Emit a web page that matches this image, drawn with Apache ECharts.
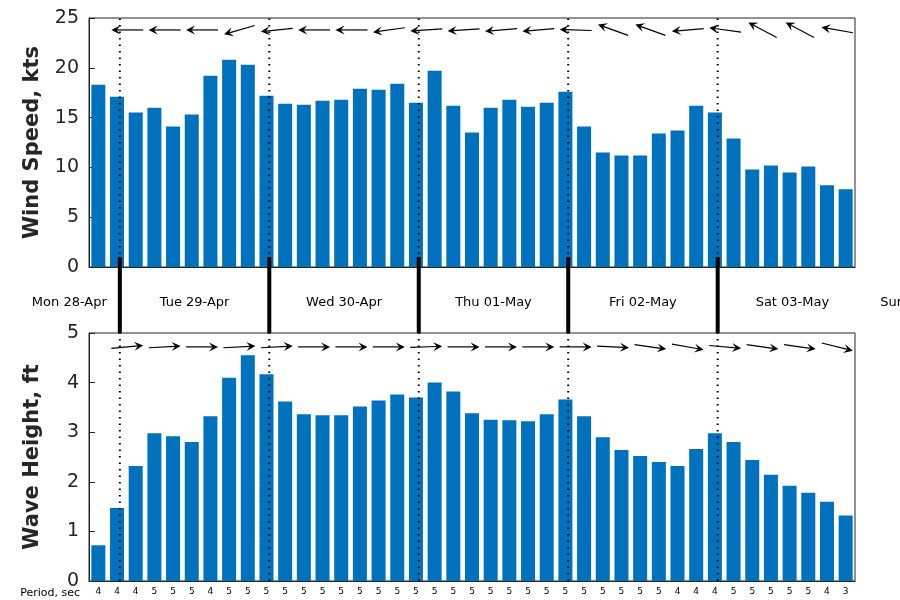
<!DOCTYPE html>
<html>
<head>
<meta charset="utf-8" />
<title>Wind and waves</title>
<script src="https://cdn.jsdelivr.net/npm/echarts@6/dist/echarts.min.js"></script>
<style>
  html, body { margin: 0; padding: 0; background: #fff; }
  #chart { width: 900px; height: 600px; }
</style>
</head>
<body>
<div id="chart"></div>
<script>
// 3-hourly values, 41 steps
const windSpeed = [18.3, 17.1, 15.5, 16.0, 14.1, 15.3, 19.2, 20.8, 20.3, 17.2,
  16.4, 16.3, 16.7, 16.8, 17.9, 17.8, 18.4, 16.5, 19.7, 16.2,
  13.5, 16.0, 16.8, 16.1, 16.5, 17.6, 14.1, 11.5, 11.2, 11.2,
  13.4, 13.7, 16.2, 15.5, 12.9, 9.8, 10.2, 9.5, 10.1, 8.2, 7.8];
const waveHeight = [0.72, 1.47, 2.32, 2.98, 2.92, 2.80, 3.32, 4.10, 4.55, 4.17,
  3.62, 3.36, 3.34, 3.34, 3.52, 3.64, 3.76, 3.70, 4.00, 3.82,
  3.38, 3.25, 3.24, 3.22, 3.36, 3.66, 3.32, 2.90, 2.64, 2.52,
  2.40, 2.32, 2.66, 2.98, 2.80, 2.44, 2.14, 1.92, 1.78, 1.60, 1.32];
const period = [4, 4, 4, 5, 5, 5, 4, 5, 5, 5, 5, 5, 5, 5, 5, 5, 5, 5, 5,
  5, 5, 5, 5, 5, 5, 5, 5, 5, 5, 5, 5, 4, 4, 4, 5, 5, 5, 5, 5, 4, 3];
// direction arrows every 6 hours (index into steps, angle in degrees, 0 = pointing east)
const arrowIdx = [1, 3, 5, 7, 9, 11, 13, 15, 17, 19, 21, 23, 25, 27, 29, 31, 33, 35, 37, 39];
const windDir = [180, 180, 180, 196, 186, 180, 180, 188, 184, 184,
  185, 185, 178, 160, 160, 185, 172, 152, 152, 170];
const waveDir = [5, 3, 0, 3, 3, 0, 0, 0, 2, 0,
  0, 0, 0, -3, -8, -10, -5, -8, -8, -14];
const dayIdx = [1, 9, 17, 25, 33];
const dayNames = ['Mon 28-Apr', 'Tue 29-Apr', 'Wed 30-Apr', 'Thu 01-May', 'Fri 02-May', 'Sat 03-May', 'Sun 04-May'];

const cats = windSpeed.map((v, i) => String(i));
const FONT = 'DejaVu Sans';
const BLUE = '#0072bd';
const TOP = { left: 89, top: 18, width: 766, height: 249 };
const BOT = { left: 89, top: 333, width: 766, height: 248 };

const chart = echarts.init(document.getElementById('chart'));

function valueAxis(idx, max, name) {
  return {
    gridIndex: idx, type: 'value', min: 0, max: max, interval: max / 5,
    name: name, nameLocation: 'middle', nameGap: 46,
    nameTextStyle: { fontFamily: FONT, fontSize: 21, fontWeight: 'bold', color: '#262626' },
    axisLine: { show: true, lineStyle: { color: '#262626' } },
    axisTick: { show: true, inside: true, length: 6, lineStyle: { color: '#262626' } },
    axisLabel: { fontFamily: FONT, fontSize: 19, color: '#262626', margin: 10 },
    splitLine: { show: false }
  };
}

function catAxis(idx, showLabels) {
  return {
    gridIndex: idx, type: 'category', data: cats,
    axisLine: { show: true, lineStyle: { color: '#262626' } },
    axisTick: { show: false },
    axisLabel: showLabels ? {
      interval: 0, fontFamily: FONT, fontSize: 9, color: '#000', margin: 6,
      formatter: (v, i) => String(period[i])
    } : { show: false }
  };
}

// dotted day lines (and solid connectors below the top panel)
function dayLines(yMax, connector) {
  return {
    type: 'custom', xAxisIndex: connector ? 0 : 1, yAxisIndex: connector ? 0 : 1,
    data: dayIdx.map(d => [d]), z: 5, silent: true,
    renderItem: function (params, api) {
      const bw = api.size([1, 0])[0];
      const p0 = api.coord([api.value(0), 0]);
      const p1 = api.coord([api.value(0), yMax]);
      const x = p0[0] + bw * 0.15;
      const kids = [{
        type: 'line', shape: { x1: x, y1: p0[1], x2: x, y2: p1[1] },
        style: { stroke: '#000', lineWidth: 2, lineDash: [1.5, 5] }
      }];
      if (connector) {
        kids.push({
          type: 'line', shape: { x1: x, y1: p0[1] - 10, x2: x, y2: BOT.top },
          style: { stroke: '#000', lineWidth: 4 }
        });
      }
      return { type: 'group', children: kids };
    }
  };
}

function arrows(axis, yPos, dirs) {
  return {
    type: 'custom', xAxisIndex: axis, yAxisIndex: axis, z: 6, silent: true,
    data: arrowIdx.map((d, i) => [d, yPos, dirs[i]]),
    renderItem: function (params, api) {
      const bw = api.size([1, 0])[0];
      const c = api.coord([api.value(0), api.value(1)]);
      const cx = c[0] + bw * 0.55, cy = c[1];
      const a = api.value(2) * Math.PI / 180;
      const L = 32, dx = Math.cos(a), dy = -Math.sin(a);
      const tx = cx + dx * L / 2, ty = cy + dy * L / 2;
      const sx = cx - dx * L / 2, sy = cy - dy * L / 2;
      const h = 9, w = 4.5, nx = -dy, ny = dx;
      const bx = tx - dx * h, by = ty - dy * h;
      const nb = tx - dx * h * 0.6, nby = ty - dy * h * 0.6;
      return {
        type: 'group', children: [
          { type: 'line', shape: { x1: sx, y1: sy, x2: nb, y2: nby }, style: { stroke: '#000', lineWidth: 1.2 } },
          { type: 'polygon', shape: { points: [[tx, ty], [bx + nx * w, by + ny * w], [nb, nby], [bx - nx * w, by - ny * w]] },
            style: { fill: '#000' } }
        ]
      };
    }
  };
}

const option = {
  animation: false,
  grid: [
    Object.assign({ show: true, borderColor: '#262626', borderWidth: 1 }, TOP),
    Object.assign({ show: true, borderColor: '#262626', borderWidth: 1 }, BOT)
  ],
  xAxis: [catAxis(0, false), catAxis(1, true)],
  yAxis: [valueAxis(0, 25, 'Wind Speed, kts'), valueAxis(1, 5, 'Wave Height, ft')],
  series: [
    { type: 'bar', xAxisIndex: 0, yAxisIndex: 0, data: windSpeed, barCategoryGap: '25%',
      itemStyle: { color: BLUE } },
    { type: 'bar', xAxisIndex: 1, yAxisIndex: 1, data: waveHeight, barCategoryGap: '25%',
      itemStyle: { color: BLUE } },
    dayLines(25, true),
    dayLines(5, false),
    arrows(0, 23.8, windDir),
    arrows(1, 4.72, waveDir)
  ]
};
chart.setOption(option);

// day labels between the panels
const txt = [];
const midY = (TOP.top + TOP.height + BOT.top) / 2 + 3;
const bw = TOP.width / cats.length;
const lineX = dayIdx.map(d => chart.convertToPixel({ xAxisIndex: 0 }, String(d)) + bw * 0.15);
const step = lineX[1] - lineX[0];
dayNames.forEach((n, i) => {
  let x, align = 'center';
  if (i === 0) { x = lineX[0] - 13; align = 'right'; }
  else if (i === dayNames.length - 1) { x = lineX[4] + step + 13; align = 'left'; }
  else if (i === dayNames.length - 2) { x = lineX[4] + step / 2; }
  else { x = (lineX[i - 1] + lineX[i]) / 2; }
  txt.push({ type: 'text', x: x, y: midY, style: { text: n, fontFamily: FONT, fontSize: 13, fill: '#000', align: align, verticalAlign: 'middle' } });
});
txt.push({ type: 'text', x: 80, y: 593, style: { text: 'Period, sec', fontFamily: FONT, fontSize: 11, fill: '#000', align: 'right', verticalAlign: 'middle' } });
chart.setOption({ graphic: txt });
</script>
</body>
</html>
